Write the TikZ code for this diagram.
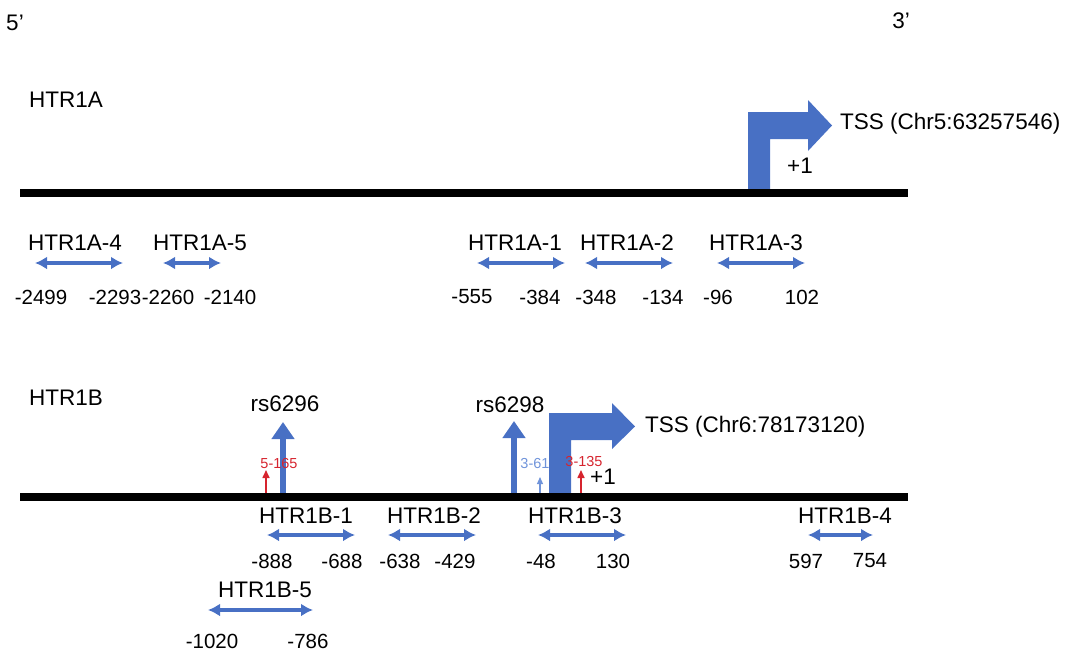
\documentclass[tikz,border=0pt]{standalone}
\usepackage{fontspec}
\setmainfont{Liberation Sans}
\usetikzlibrary{arrows.meta,positioning}
\definecolor{GeneBlue}{RGB}{72,112,196}
\definecolor{SnpRed}{RGB}{214,36,46}
\definecolor{PaleBlue}{RGB}{112,148,218}
\tikzset{
  lbl/.style={font=\fontsize{22.5}{24}\selectfont,inner sep=0pt},
  num/.style={font=\fontsize{20.5}{22}\selectfont,inner sep=0pt},
  tinylbl/.style={font=\fontsize{14.5}{16}\selectfont,inner sep=0pt},
  dna/.style={line width=8pt,black},
  rng/.style={{Latex[length=12pt,width=13pt]}-{Latex[length=12pt,width=13pt]},
              GeneBlue,line width=3.6pt},
  tss/.style={fill=GeneBlue,draw=none},
  snp/.style={-{Triangle[length=17pt,width=22pt]},GeneBlue,line width=6pt},
  mut/.style={-{Triangle[length=8pt,width=7pt]},SnpRed,line width=1.6pt},
  mutb/.style={-{Triangle[length=7pt,width=6pt]},PaleBlue,line width=1.2pt},
}

\begin{document}
\begin{tikzpicture}[x=1pt,y=-1pt]
  \useasboundingbox (0,0) rectangle (1080,654);
  % strand ends
  \node[lbl] (five) at (15,23) {5’};
  \node[lbl] (three) at (901,21) {3’};

  % HTR1A
  \node[lbl,anchor=west] (genA) at (29,100) {HTR1A};
  \fill[tss] (748,193) -- (748,112) -- (808,112) -- (808,100) -- (832,125.5)
             -- (808,151) -- (808,139) -- (770,139) -- (770,193) -- cycle;
  \coordinate (lineA-l) at (20,193);
  \coordinate (lineA-r) at (908,193);
  \draw[dna] (lineA-l) -- (lineA-r);
  \node[lbl,anchor=west] (tssA) at (840,124) {TSS (Chr5:63257546)};
  \node[lbl] (plusA) at (800,166) {+1};

  \foreach \k/\tx/\xa/\xb/\na/\nb/\va/\vb in {
      4/75/35/123/41/115/-2499/-2293,
      5/200/163/221/168/230/-2260/-2140,
      1/515/477/565/472/540/-555/-384,
      2/627/585/673/596/663/-348/-134,
      3/756/717/805/718/802/-96/102}{
    \node[lbl] (A\k) at (\tx,243) {HTR1A-\k};
    \coordinate (A\k-l) at (\xa,263);
    \coordinate (A\k-r) at (\xb,263);
    \draw[rng] (A\k-l) -- (A\k-r);
    \node[num] (A\k-from) at (\na,297) {\va};
    \node[num] (A\k-to) at (\nb,297) {\vb};
  }

  % HTR1B
  \node[lbl,anchor=west] (genB) at (29,398) {HTR1B};
  \fill[tss] (549,497) -- (549,413) -- (612,413) -- (612,403) -- (635,426.5)
             -- (612,449) -- (612,440) -- (571,440) -- (571,497) -- cycle;
  \node[lbl,anchor=west] (tssB) at (645,427) {TSS (Chr6:78173120)};
  \node[lbl] (plusB) at (603,477) {+1};

  \node[lbl] (rs6296) at (285,404) {rs6296};
  \coordinate (rs6296-b) at (283,497);
  \coordinate (rs6296-t) at (283,422);
  \draw[snp] (rs6296-b) -- (rs6296-t);
  \node[lbl] (rs6298) at (510,405) {rs6298};
  \coordinate (rs6298-b) at (514,497);
  \coordinate (rs6298-t) at (514,421);
  \draw[snp] (rs6298-b) -- (rs6298-t);

  \node[tinylbl,text=SnpRed] (m5) at (279,464) {5-165};
  \coordinate (m5-b) at (266,497);
  \coordinate (m5-t) at (266,470);
  \draw[mut] (m5-b) -- (m5-t);
  \node[tinylbl,text=PaleBlue] (m361) at (535,464) {3-61};
  \coordinate (m361-b) at (540,495);
  \coordinate (m361-t) at (540,477);
  \draw[mutb] (m361-b) -- (m361-t);
  \node[tinylbl,text=SnpRed] (m3135) at (584,462) {3-135};
  \coordinate (m3135-b) at (581,497);
  \coordinate (m3135-t) at (581,470);
  \draw[mut] (m3135-b) -- (m3135-t);

  \coordinate (lineB-l) at (20,497);
  \coordinate (lineB-r) at (908,497);
  \draw[dna] (lineB-l) -- (lineB-r);

  \foreach \k/\tx/\xa/\xb/\na/\nb/\va/\vb in {
      1/306/267/355/272/342/-888/-688,
      2/434/388/476/400/455/-638/-429,
      3/575/538/626/541/613/-48/130,
      4/845/808/873/806/870/597/754}{
    \node[lbl] (B\k) at (\tx,516) {HTR1B-\k};
    \coordinate (B\k-l) at (\xa,535);
    \coordinate (B\k-r) at (\xb,535);
    \draw[rng] (B\k-l) -- (B\k-r);
    \node[num] (B\k-from) at (\na,561) {\va};
    \node[num] (B\k-to) at (\nb,561) {\vb};
  }
  \node[lbl] (B5) at (265,590) {HTR1B-5};
  \coordinate (B5-l) at (208,610);
  \coordinate (B5-r) at (313,610);
  \draw[rng] (B5-l) -- (B5-r);
  \node[num] (B5-from) at (212,641) {-1020};
  \node[num] (B5-to) at (308,641) {-786};
\end{tikzpicture}
\end{document}
